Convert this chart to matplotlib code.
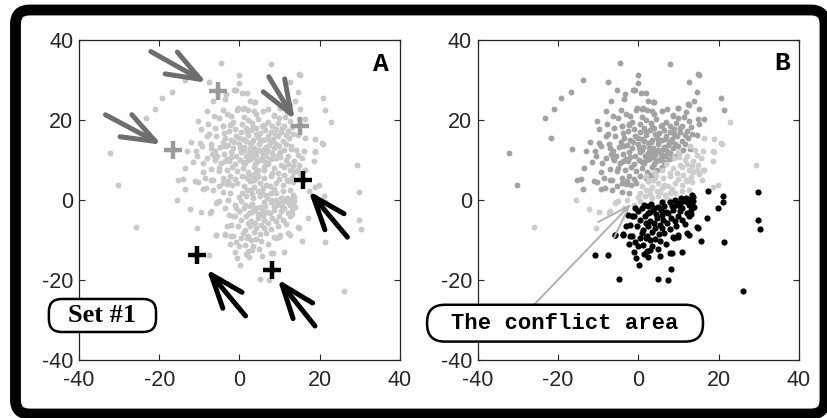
import numpy as np
import matplotlib.pyplot as plt
from matplotlib.patches import FancyBboxPatch
from matplotlib.transforms import Affine2D

# upper group (dark gray in B)
upper_x = [-32.3, -30.3, -23.3, -21.0, -21.8, -19.2, -16.7, -16.5, -13.7, -13.1, -13.5, -15.3, -14.2, -13.7,
           -11.1, -10.4, -10.4, -9.7, -9.8, -9.3, -9.2, -9.2, -8.4, -7.5, -8.1, -6.7, -7.2, -7.1, -6.2, -5.8,
           -6.1, -5.2, -5.4, -4.5, -4.2, -4.1, -4.1, -3.4, -3.5, -3.7, -3.0, -2.3, -2.3, -1.8, -1.0, 0.0, 0.0,
           0.6, 1.8, 2.5, 3.8, -0.3, 1.1, 2.2, 5.8, 7.9, 8.7, 10.0, 11.3, 12.7, 12.5, 13.8, 14.8, 15.2, 14.5,
           15.2, 14.8, 16.4, 14.5, 15.0, 20.7, 21.4, -1.4, -0.8, 3.6, 3.5, 10.0, 12.4, -4.0, -2.2, 8.6, -0.6, 0.8,
           -1.5, 0.5, 2.0, 3.2, 4.5, 6.0, 7.0, 9.5, 11.0, 12.5,
           -2.5, -1.0, 0.3, 1.5, 2.8, 4.0, 5.2, 6.4, 7.8, 9.0, 10.3, 12.0, 13.3,
           -3.5, -2.0, -0.8, 0.8, 2.0, 3.3, 4.6, 5.8, 7.0, 8.3, 9.6, 10.8, 12.3,
           -4.8, -2.8, -1.5, -0.2, 1.2, 2.5, 3.7, 4.9, 6.1, 7.3, 8.6, 9.9, 11.2,
           -3.8, -2.2, -0.9, 0.4, 1.7, 3.0, 4.2, 5.5, 6.7, 8.0, 9.3,
           -4.5, -2.6, -1.2, 0.1, 1.4, 2.7, 3.9, 5.1, 6.4, 7.6,
           -3.2, -1.8, -0.5, 0.9, 2.2, 3.5, 4.7, 6.0,
           -4.0, -2.4, -1.0, 0.5, 1.8, 3.0, -5.2, -3.0, -0.6,
           -8.0, -7.0, -6.5, -5.5, -7.5, -6.0, -5.0, -8.5, -11.5, -12.0, -10.5, -7.8, -6.3,
           1.0, 2.3, 3.6, 4.8, 2.0, 3.1, 5.0, 6.5, 4.2, 1.5, 0.2, 3.8, 5.7, 2.6, 7.9, 8.8, 10.5, 11.6, 6.8, 9.1,
           -6.2, -10.8, -6.2, -3.7, -7.1, -4.1, -2.9, -6.6,
           -2.0, 0.8, 2.9, 4.4, 6.0, 7.2, 8.4, 10.2, 11.5, 12.8, -1.3, 1.8, 3.4, 5.6, 8.0, 0.0, -3.0, -5.0,
           -4.2, -6.8, -2.0, 1.0, 4.0, 7.2, 9.8, 11.8, 13.0, -9.0, -8.0, -3.8, 2.5, 4.0]
upper_y = [11.7, 3.7, 20.4, 22.7, 15.5, 25.5, 27.0, 12.7, 29.9, 12.3, 8.1, 5.1, 5.3, 2.75,
           4.7, 4.6, 19.7, 17.7, 14.2, 13.6, 7.0, 2.8, 2.9, 29.6, 22.3, 24.7, 13.9, 13.0, 12.2, 16.0,
           9.9, 7.2, 27.4, 34.2, 22.5, 18.6, 2.1, 26.5, 25.2, 13.6, 21.5, 18.8, 1.7, 3.8, 27.4, 31.2, 29.2,
           26.8, 26.8, 24.7, 24.5, 22.9, 23.0, 22.6, 22.2, 34.1, 20.9, 23.1, 20.8, 29.6, 23.8, 24.8, 31.4, 31.3, 27.0,
           22.8, 20.2, 20.2, 16.2, 18.9, 25.4, 22.6, 27.5, 27.5, 24.5, 22.3, 23.0, 24.0, 18.4, 19.1, 21.2, 22.6, 22.8,
           19.5, 19.0, 20.0, 19.2, 20.3, 18.8, 19.6, 19.2, 18.6, 19.8,
           17.2, 17.8, 17.0, 18.0, 17.4, 17.9, 16.8, 17.5, 17.0, 17.8, 16.9, 17.2, 16.4,
           15.5, 15.0, 16.0, 15.3, 16.2, 15.0, 15.8, 14.9, 16.1, 15.2, 15.9, 14.8, 15.4,
           13.2, 13.8, 12.9, 14.1, 13.3, 14.2, 13.0, 13.9, 12.8, 13.7, 12.9, 13.6, 12.6,
           11.4, 12.0, 11.0, 11.9, 11.1, 12.1, 11.2, 12.0, 11.0, 11.8, 11.0,
           9.2, 9.8, 9.0, 10.0, 9.2, 10.2, 9.1, 10.0, 9.4, 10.3,
           7.6, 8.2, 7.3, 8.0, 7.1, 8.3, 7.5, 8.2,
           5.4, 6.0, 5.2, 6.1, 5.4, 6.3, 3.6, 3.9, 4.2,
           10.5, 7.8, 5.0, 11.0, 16.5, 18.0, 20.5, 5.5, 9.5, 14.5, 11.0, 19.0, 21.0,
           12.5, 11.8, 10.8, 12.6, 9.9, 14.4, 15.0, 13.2, 16.5, 14.8, 13.1, 11.9, 10.6, 12.9, 14.4, 16.6, 18.0, 16.2, 15.3, 14.0,
           10.9, 12.2, 10.5, 9.7, 5.1, 4.2, 4.65, 2.6,
           10.8, 9.5, 10.5, 9.8, 11.3, 12.2, 10.5, 12.0, 14.0, 12.8, 14.6, 16.9, 18.2, 18.5, 18.5, 15.6, 10.3, 8.0,
           14.6, 11.5, 21.0, 20.8, 21.5, 22.8, 20.5, 22.0, 18.2, 9.2, 16.0, 16.8, 4.8, 5.6]

# middle group (light gray in B, the conflict zone)
mid_x = [-25.9, -15.6, -12.4, -10.6, -9.7, -7.25, -5.5, -5.0, 22.8, 18.75, 20.5, 20.8, 18.75, 18.6, 29.2,
         19.8, 18.7, 16.3, 16.25, 15.8, 14.5, 18.7, 13.3, 14.5, 16.2, 13.3,
         2.5, 3.7, 5.0, 6.2, 7.9, 9.6, 11.2, 12.5, 10.4, 8.7, 11.6, 2.9, 4.6, 5.8, 7.5, 9.1, 10.8, 12.1,
         1.7, 3.3, 5.0, 6.6, 7.9, 0.4, -1.2, -2.9, -5.8, -7.1, 9.1, 10.8, 12.5, 10.4, 7.9,
         1.0, 2.0, 4.0, 6.0, 7.0, 9.0, 10.0, 12.0, 13.5, 14.0, 11.0, 8.0, 6.5, 3.5, 0.5, 13.0, 14.8, 15.5,
         16.0, 12.8,
         4.5, 5.5, 8.5, 9.8, 11.8, 13.6, 3.0, 1.8, 6.8, 12.0, 15.0, 10.2, -3.5, -0.2]
mid_y = [-6.75, -0.1, -2.25, -6.9, -2.9, -3.25, -0.6, -0.3, 19.5, 15.2, 14.25, 14.0, 12.0, 9.75, 8.7,
         3.75, 3.25, 15.5, 7.6, 5.1, 11.3, 12.2, 8.4, 7.6, 7.4, 4.5,
         4.65, 5.1, 4.2, 5.5, 5.9, 6.75, 6.3, 7.6, 8.8, 8.0, 10.1, 2.6, 2.2, 3.0, 3.4, 4.2, 3.8, 4.65,
         0.9, 0.5, 0.9, 1.3, 1.7, -0.3, -1.2, 0.1, -0.75, -2.85, 1.7, 2.2, 2.6, 0.5, 0.1,
         3.5, 6.0, 7.0, 7.5, 9.0, 10.5, 12.0, 11.0, 9.8, 12.5, 8.2, 6.8, 3.8, 3.2, 1.8, 5.8, 8.8, 10.5,
         12.3, 13.5,
         6.0, 2.0, 2.8, 5.2, 5.0, 7.0, 1.5, 2.4, 0.5, 9.0, 6.5, 10.8, -2.0, 0.8]

# lower group (black in B)
lower_x = [0.0, 2.5, 3.7, 5.0, 6.4, 7.9, 9.1, 10.0, 11.2, 12.5, -1.2, 0.4, 1.7, 2.9, 4.6, 5.8, 7.5, 8.7,
           10.4, 12.1, -2.1, -0.4, 1.25, 2.5, 4.2, 5.4, 7.1, 9.1, 10.8, -3.7, -5.8, -1.65, 0.4, 2.1, 4.2,
           5.4, 8.7, 10.0, 1.25, 3.3, 0.0,
           3.0, 4.0, 6.0, 8.5, 10.5, 11.8, 12.8, 1.0, 2.0, 3.5, 6.5, 7.8, 9.5, 11.5, 12.5, 13.0, 0.8, -0.8,
           2.8, 4.8, 6.2, 3.8, 11.0, 9.8, 2.3, -2.5, 7.0, 12.0, 1.5, 5.6,
           -5.8, -3.7, -3.0, -2.0, -2.4, -1.6, -0.6, 0.2, 2.4, 5.0, 7.4, 8.1, 5.5, 8.4, 11.0, 9.0, 9.9, 12.5,
           15.6, 14.75, 17.0, 17.25, 19.8, 21.0, 21.2, 21.3, 26.0, 29.8, 29.7, 30.3, -10.75, -7.6, -4.8,
           13.3, 13.7, 13.3, 13.9, 13.1, 14.5, 2.1, 7.9,
           4.5, 6.8, 8.2, 9.4, 10.6, 12.2, 13.5, 3.2, 1.4, -0.9, 5.2, 6.0, 3.0, -1.0, 1.8]
lower_y = [-2.85, -1.4, -2.4, -1.75, -1.6, -0.6, 0.1, -0.75, -0.3, -1.2, -4.1, -4.9, -4.1, -5.3, -4.5, -3.7,
           -3.3, -2.4, -2.85, -3.3, -6.2, -6.6, -7.4, -6.4, -7.0, -6.2, -5.8, -5.3, -4.9, -8.7, -8.7, -9.1,
           -9.5, -8.9, -9.8, -10.3, -9.3, -8.7, -11.2, -11.6, -11.6,
           -3.0, -2.0, -0.5, -1.5, -1.5, 0.6, 0.3, -2.0, -5.8, -8.0, -8.2, -7.2, -6.5, -6.0, -4.0, -2.5, -8.2,
           -10.6, -10.0, -12.3, -5.0, -5.8, -2.0, -3.9, -3.2, -3.8, -11.0, -8.2, -13.6, -2.6,
           -8.75, -8.5, -6.5, -8.9, -10.9, -4.1, -14.5, -16.3, -14.3, -19.7, -20.1, -17.3, -13.9, -13.25, -13.0,
           -9.5, -9.25, -8.75, -10.3, -6.9, -4.5, 2.3, -1.9, 1.0, -0.4, -10.6, -22.7, 2.0, -5.1, -7.3, -13.8,
           -13.7, -19.7, 1.3, -0.3, -1.2, -1.75, -3.4, -6.8, -12.8, -13.2,
           -3.5, -3.0, -4.4, -1.2, 0.4, -0.6, 0.8, -1.0, -1.2, -2.0, -8.4, -7.0, -12.5, -13.0, -9.5]

# highlighted points in A
gray_cross_x = [-5.3, -16.5, 15.2]
gray_cross_y = [27.2, 12.5, 18.6]
black_cross_x = [15.9, -10.7, 8.0]
black_cross_y = [5.0, -13.8, -17.5]

ticks = [-40, -20, 0, 20, 40]

plt.rcParams['font.family'] = ['Liberation Sans', 'DejaVu Sans']
plt.rcParams['axes.unicode_minus'] = False

fig = plt.figure(figsize=(8.27, 4.18), dpi=100)
axA = fig.add_axes([0.0955, 0.1388, 0.3882, 0.7656])
axB = fig.add_axes([0.5776, 0.1388, 0.3885, 0.7656])

for ax in (axA, axB):
    ax.set_xlim(-40, 40)
    ax.set_ylim(-40, 40)
    ax.set_xticks(ticks)
    ax.set_yticks(ticks)
    ax.tick_params(direction='in', top=True, right=True, length=4, width=0.8,
                   labelsize=15.5, colors='#262626')
    ax.tick_params(axis='x', pad=7)
    ax.tick_params(axis='y', pad=4)
    for sp in ax.spines.values():
        sp.set_color('#262626')
        sp.set_linewidth(0.9)

# panel A: all points in light gray
all_x = upper_x + mid_x + lower_x
all_y = upper_y + mid_y + lower_y
axA.scatter(all_x, all_y, s=18, color='#c8c8c8', linewidths=0, zorder=2)
axA.plot(gray_cross_x, gray_cross_y, '+', color='#9a9a9a', ms=13, mew=3.2, zorder=3)
axA.plot(black_cross_x, black_cross_y, '+', color='black', ms=13, mew=3.2, zorder=3)

# arrows pointing at the marked points
gray_arrows = [((-22.1, 37.1), (-8.2, 29.3)), ((-33.4, 21.3), (-19.4, 13.8)), ((7.3, 30.8), (13.8, 20.0))]
black_arrows = [((26.9, -9.3), (17.2, 2.3)), ((1.5, -29.0), (-8.2, -17.3)), ((18.8, -31.5), (9.5, -19.8))]
for tail, head in gray_arrows:
    axA.annotate('', xy=head, xytext=tail,
                 arrowprops=dict(arrowstyle='->,head_length=1.2,head_width=0.45', color='#6e6e6e',
                                 lw=3.6, mutation_scale=20, shrinkA=0, shrinkB=0))
for tail, head in black_arrows:
    axA.annotate('', xy=head, xytext=tail,
                 arrowprops=dict(arrowstyle='->,head_length=1.2,head_width=0.45', color='black',
                                 lw=3.6, mutation_scale=20, shrinkA=0, shrinkB=0))

axA.text(35.2, 33.9, 'A', family='Liberation Mono', fontweight='bold', fontsize=19,
         ha='center', va='center')

# panel B: three groups
axB.scatter(upper_x, upper_y, s=18, color='#a2a2a2', linewidths=0, zorder=2)
axB.scatter(mid_x, mid_y, s=18, color='#cdcdcd', linewidths=0, zorder=2)
axB.scatter(lower_x, lower_y, s=20, color='black', linewidths=0, zorder=3)
axB.text(35.9, 34.2, 'B', family='Liberation Mono', fontweight='bold', fontsize=19,
         ha='center', va='center')

axB.annotate('', xy=(-1.7, -0.9), xytext=(-26.0, -26.2),
             arrowprops=dict(arrowstyle='->,head_length=2.4,head_width=0.8', color='#b0b0b0',
                             lw=1.4, mutation_scale=10, shrinkA=0, shrinkB=0), zorder=4)

# rounded label boxes
boxA = FancyBboxPatch((-47.5, -33.0), 26.7, 8.25, boxstyle='round,pad=0,rounding_size=3.2',
                      fc='white', ec='black', lw=1.8, zorder=5, clip_on=False)
axA.add_patch(boxA)
axA.text(-34.2, -28.9, 'Set #1', family='Liberation Serif', fontweight='bold', fontsize=19,
         ha='center', va='center', zorder=6, clip_on=False)

boxB = FancyBboxPatch((-52.6, -35.4), 68.7, 9.2, boxstyle='round,pad=0,rounding_size=4.4',
                      fc='white', ec='black', lw=1.8, zorder=5, clip_on=False)
axB.add_patch(boxB)
axB.text(-18.3, -30.8, 'The conflict area', family='Liberation Mono', fontweight='bold',
         fontsize=16, ha='center', va='center', zorder=6, clip_on=False)

# thick outer frame
px = Affine2D().scale(1 / fig.dpi) + fig.dpi_scale_trans
frame = FancyBboxPatch((15.5, 4), 809.5, 404, boxstyle='round,pad=0,rounding_size=14',
                       fc='none', ec='black', lw=7.8, transform=px)
fig.patches.append(frame)

fig.savefig('out.png', dpi=100)
